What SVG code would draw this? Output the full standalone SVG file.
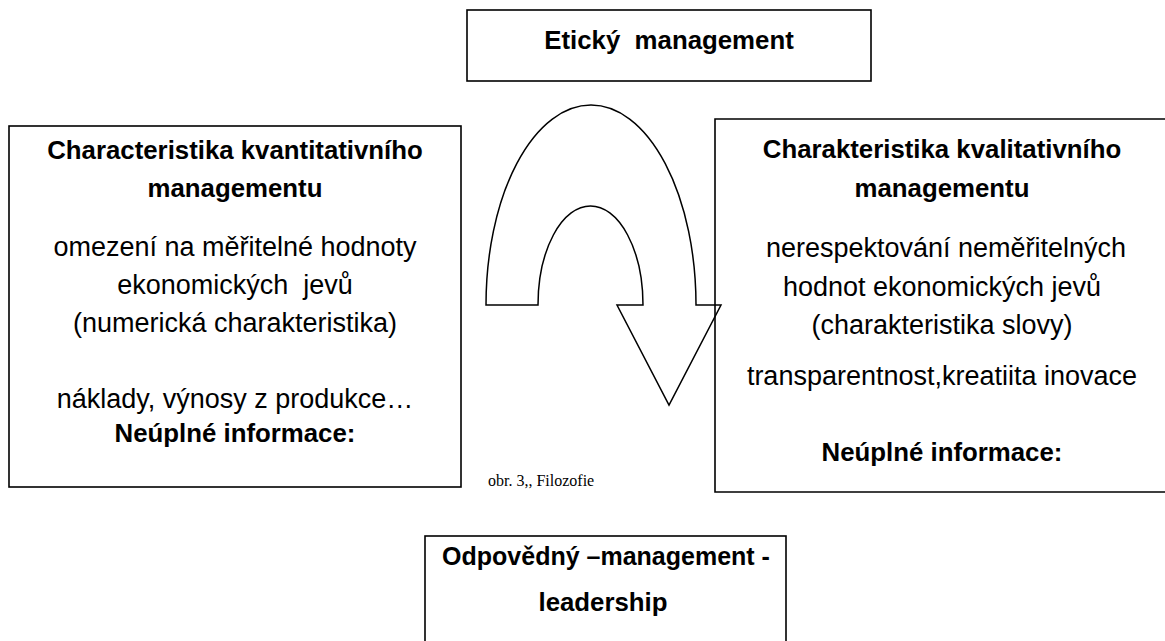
<svg xmlns="http://www.w3.org/2000/svg" width="1165" height="641" viewBox="0 0 1165 641">
<style>
.box{fill:#fff;stroke:#000;stroke-width:1.6}
.t{font-family:"Liberation Sans",Arial,sans-serif;font-size:27px;fill:#000;text-anchor:middle;white-space:pre}
.b{font-weight:bold;font-size:25.8px}
.cap{font-family:"Liberation Serif","Times New Roman",serif;font-size:16px;fill:#000;white-space:pre}
.arrow{fill:#fff;stroke:#000;stroke-width:1.5;stroke-linejoin:miter}
</style>
<rect width="1165" height="641" fill="#fff"/>
<g id="connectors">
<path class="arrow" d="M486,305 A105,200 0 0 1 696,305 L721,305 L669,405 L617,305 L643,305 A52.5,99 0 0 0 538,305 Z"/>
</g>
<g id="top">
<rect class="box" x="467" y="10" width="404" height="71" stroke-width="2.2"/>
<text class="t b" x="669" y="49">Etický  management</text>
</g>
<g id="left">
<rect class="box" x="9" y="126" width="452" height="361"/>
<text class="t b" x="235" y="159">Characteristika kvantitativního</text>
<text class="t b" x="235" y="197">managementu</text>
<text class="t" x="235" y="256">omezení na měřitelné hodnoty</text>
<text class="t" x="235" y="294">ekonomických  jevů</text>
<text class="t" x="235" y="332">(numerická charakteristika)</text>
<text class="t" x="235" y="408">náklady, výnosy z produkce…</text>
<text class="t b" x="235" y="442">Neúplné informace:</text>
</g>
<g id="right">
<path fill="none" stroke="#000" stroke-width="1.6" d="M1170,119 L715,119 L715,492 L1170,492"/>
<text class="t b" x="942" y="158">Charakteristika kvalitativního</text>
<text class="t b" x="942" y="197">managementu</text>
<text class="t" x="946" y="257">nerespektování neměřitelných</text>
<text class="t" x="942" y="296">hodnot ekonomických jevů</text>
<text class="t" x="942" y="334">(charakteristika slovy)</text>
<text class="t" x="942" y="385">transparentnost,kreatiita inovace</text>
<text class="t b" x="942" y="461">Neúplné informace:</text>
</g>
<g id="caption">
<text class="cap" x="488" y="486">obr. 3,, Filozofie</text>
</g>
<g id="bottom">
<rect class="box" x="425" y="536" width="361" height="130" stroke-width="2"/>
<text class="t b" x="606" y="565" style="font-size:25px">Odpovědný –management -</text>
<text class="t b" x="603" y="611">leadership</text>
</g>
</svg>
